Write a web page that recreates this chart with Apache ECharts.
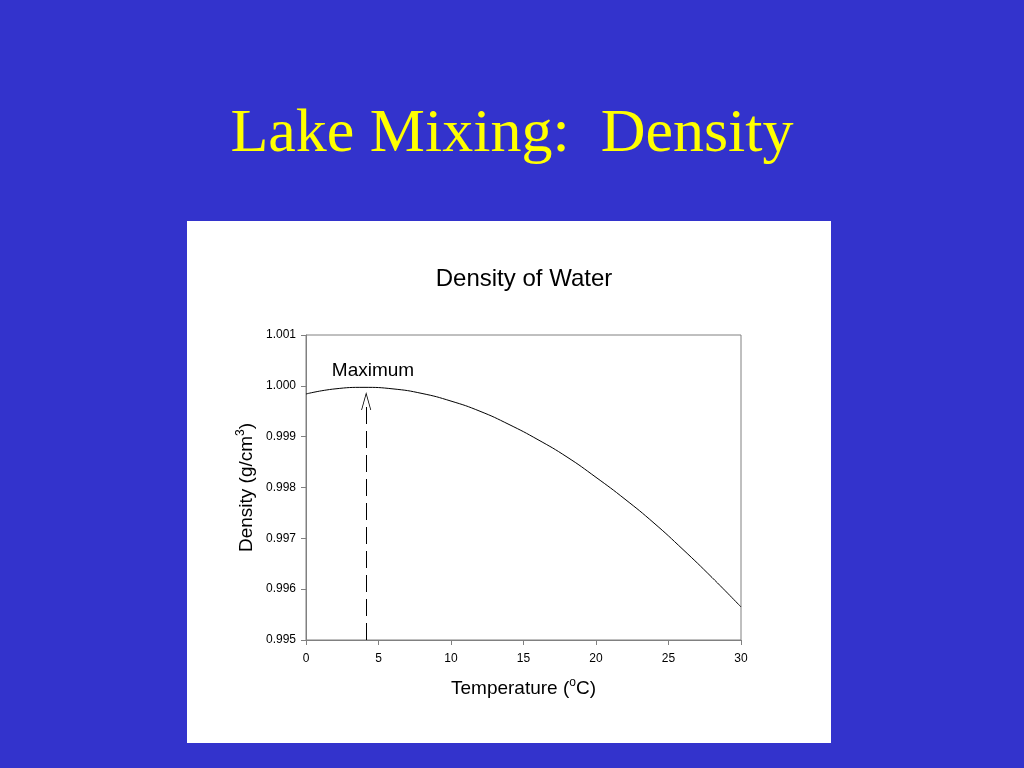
<!DOCTYPE html>
<html>
<head>
<meta charset="utf-8">
<script src="https://cdn.jsdelivr.net/npm/echarts@6/dist/echarts.min.js"></script>
<style>
html,body{margin:0;padding:0;background:#3333CC;}
#chart{width:1024px;height:768px;}
</style>
</head>
<body>
<div id="chart"></div>
<script>
const temperatures = [0, 2, 4, 6, 8, 10, 12, 14, 16, 18, 20, 22, 24, 26, 28, 30];
const densities = [0.99984, 0.99994, 0.99997, 0.99994, 0.99985, 0.99970, 0.99950, 0.99924, 0.99894, 0.99860, 0.99820, 0.99777, 0.99730, 0.99678, 0.99623, 0.99565];
const xTicks = [0, 5, 10, 15, 20, 25, 30];
const yTicks = [0.995, 0.996, 0.997, 0.998, 0.999, 1.000, 1.001];
const arrowTemp = 4.15;
const arrowEndDensity = 0.99970;
const maxLabelPos = [4.62, 1.00029];

const chart = echarts.init(document.getElementById('chart'));
const sans = 'Liberation Sans, Arial, sans-serif';
chart.setOption({
  backgroundColor: '#3333CC',
  animation: false,
  graphic: [{
    type: 'rect', z: -10,
    shape: {x: 187, y: 221, width: 644, height: 522},
    style: {fill: '#ffffff'}
  }, {
    type: 'text', z: 10,
    style: {text: 'Density of Water', x: 524, y: 279, textAlign: 'center', textVerticalAlign: 'middle',
      fill: '#000', font: '24px Liberation Sans, Arial, sans-serif'}
  }],
  title: [{
    text: 'Lake Mixing:  Density',
    left: 'center', top: 99,
    textStyle: {color: '#FFFF00', fontFamily: 'Liberation Serif, Times New Roman, serif', fontSize: 62, fontWeight: 'normal'}
  }],
  grid: {left: 306, right: 283, top: 335, bottom: 128, show: true, borderColor: '#808080', borderWidth: 1, backgroundColor: 'transparent'},
  xAxis: {
    type: 'value', min: 0, max: 30, interval: 5,
    name: '{n|Temperature (}{s|o}{n|C)}',
    nameLocation: 'middle', nameGap: 37,
    nameTextStyle: {rich: {
      n: {fontFamily: sans, fontSize: 19, color: '#000'},
      s: {fontFamily: sans, fontSize: 12, color: '#000', padding: [0, 0, 11, 0]}
    }},
    axisLine: {lineStyle: {color: '#808080'}},
    axisTick: {show: true, inside: false, length: 5, lineStyle: {color: '#808080'}},
    axisLabel: {color: '#000', fontFamily: sans, fontSize: 12, margin: 13,
      formatter: v => xTicks.includes(v) ? String(v) : ''},
    splitLine: {show: false}
  },
  yAxis: {
    type: 'value', min: 0.995, max: 1.001, interval: 0.001,
    name: '{n|Density (g/cm}{s|3}{n|)}',
    nameLocation: 'middle', nameGap: 48, nameRotate: 90,
    nameTextStyle: {rich: {
      n: {fontFamily: sans, fontSize: 19, color: '#000'},
      s: {fontFamily: sans, fontSize: 12, color: '#000', padding: [0, 0, 11, 0]}
    }},
    axisLine: {show: true, lineStyle: {color: '#808080'}},
    axisTick: {show: true, inside: false, length: 5, lineStyle: {color: '#808080'}},
    axisLabel: {color: '#000', fontFamily: sans, fontSize: 12, margin: 10,
      formatter: v => { const t = yTicks.find(k => Math.abs(k - v) < 1e-7); return t === undefined ? '' : t.toFixed(3); }},
    splitLine: {show: false}
  },
  series: [{
    type: 'line',
    data: temperatures.map((t, i) => [t, densities[i]]),
    smooth: true,
    showSymbol: false,
    lineStyle: {color: '#000', width: 1},
    markLine: {
      silent: true,
      symbol: ['none', 'path://M0,0 L5,18 L4.2,18 L0,3 L-4.2,18 L-5,18 Z'],
      symbolSize: [10, 18],
      label: {show: false},
      lineStyle: {color: '#000', width: 1, type: [17, 7]},
      data: [[{coord: [arrowTemp, 0.995]}, {coord: [arrowTemp, arrowEndDensity]}]]
    },
    markPoint: {
      silent: true,
      symbol: 'circle',
      symbolSize: 1,
      itemStyle: {color: 'rgba(0,0,0,0)'},
      label: {show: true, formatter: 'Maximum', color: '#000', fontFamily: sans, fontSize: 19, position: 'inside'},
      data: [{coord: maxLabelPos}]
    }
  }]
});
</script>
</body>
</html>
